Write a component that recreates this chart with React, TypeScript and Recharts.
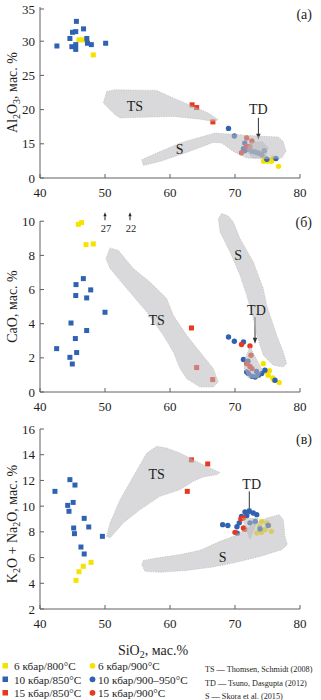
import React from 'react';
import { ScatterChart, Scatter, XAxis, YAxis, ReferenceDot, ReferenceLine, Label } from 'recharts';

type P = [number, number];

// ---------- Panel (а): Al2O3 vs SiO2 ----------
const aBlueSq: P[] = [[42.6,29.3],[44.6,30.4],[44.9,29.2],[45.0,31.3],[45.5,31.4],[45.6,32.9],[45.5,29.5],[45.5,28.8],[46.7,31.8],[47.2,30.4],[47.3,29.7],[47.9,29.5],[50.1,29.7]];
const aYellowSq: P[] = [[46.0,30.2],[46.6,30.2],[47.2,30.1],[48.2,28.0]];
const aRedSq: P[] = [[63.4,20.7],[64.1,20.3],[66.6,18.2]];
const aBlueCi: P[] = [[69.0,17.25],[69.9,16.15],[71.5,15.1],[71.3,14.3],[71.5,14.0],[72.05,14.15],[72.6,13.9],[73.1,13.8],[73.6,13.65],[74.1,13.4],[74.5,14.0],[76.3,12.85],[74.9,12.75]];
const aYellowCi: P[] = [[74.6,13.0],[75.1,12.65],[75.9,12.9],[74.4,12.45],[75.0,12.45],[75.6,12.45],[76.0,12.8],[76.7,11.7]];
const aRedCi: P[] = [[71.0,13.7],[71.8,15.85],[72.6,15.4],[71.8,14.6],[72.3,14.6]];
const aTS: P[] = [[50.26,22.66],[51.54,22.91],[57.95,22.81],[60.5,21.7],[63.58,20.47],[65.9,19.5],[67.43,18.52],[66.66,18.27],[64.6,18.6],[60.5,19.0],[56.9,18.9],[52.3,18.77],[51.54,19.25],[49.74,20.96]];
const aS: P[] = [[55.65,12.68],[57.95,13.65],[61.54,15.12],[66.92,16.58],[72.82,16.18],[76.66,15.99],[77.43,15.35],[77.85,13.89],[77.18,12.92],[74.88,12.78],[71.8,12.92],[69.74,13.89],[67.95,15.12],[66.66,15.2],[62.57,13.74],[58.46,12.43],[55.9,11.84]];
const aTD: P[] = [[72.3,15.2],[74.15,15.3],[75.1,14.43],[74.6,13.1],[72.6,12.95],[71.8,14.1]];
const aTicks = [10, 15, 20, 25, 30, 35];
const aTickLabels = ['0', '15', '20', '25', '30', '35'];

// ---------- Panel (б): CaO vs SiO2 ----------
const bBlueSq: P[] = [[46.67,6.64],[45.54,6.29],[47.8,5.98],[45.5,5.65],[47.18,5.51],[50.0,4.67],[44.77,4.04],[47.18,3.6],[45.44,3.13],[42.56,2.54],[45.64,2.31],[44.6,2.03],[44.97,1.64]];
const bYellowSq: P[] = [[45.9,9.82],[46.4,9.92],[47.08,8.63],[48.2,8.67]];
const bRedSq: P[] = [[63.3,3.75],[64.1,1.43],[66.57,0.73]];
const bBlueCi: P[] = [[69.0,3.22],[69.9,2.97],[71.3,2.93],[71.3,1.9],[71.8,1.17],[72.05,1.08],[72.6,0.92],[73.1,0.88],[73.6,0.98],[74.1,1.08],[74.6,1.27],[76.15,0.69],[72.0,1.8],[73.3,1.2]];
const bYellowCi: P[] = [[74.35,1.66],[74.9,1.17],[75.1,0.98],[75.8,0.82],[76.0,0.69],[76.8,0.55],[75.3,1.25]];
const bRedCi: P[] = [[71.0,2.78],[72.3,2.7],[71.8,1.66],[72.3,1.5],[72.46,2.15],[72.6,1.37]];
const bTS: P[] = [[50.77,8.44],[52.05,8.3],[54.35,7.23],[56.92,6.44],[59.49,5.47],[60.51,4.49],[62.57,3.32],[64.62,2.34],[66.66,1.37],[67.43,0.59],[66.66,0.29],[64.62,0.29],[62.57,0.78],[61.54,1.37],[60.51,2.34],[58.97,3.32],[56.42,4.69],[53.34,6.06],[50.77,7.23],[50.15,7.81]];
const bS: P[] = [[67.95,10.45],[68.97,10.31],[69.74,9.96],[70.77,8.99],[72.82,7.62],[74.35,6.06],[74.88,5.08],[76.42,3.32],[77.43,2.34],[77.95,1.66],[77.43,1.46],[75.89,1.56],[74.35,2.15],[73.34,3.32],[72.82,4.3],[71.8,5.66],[70.77,6.84],[69.23,8.2],[67.69,9.37],[67.43,10.16]];
const bTD: P[] = [[72.3,2.65],[73.2,2.0],[74.2,1.3],[73.6,0.8],[72.0,0.85],[71.4,1.4],[71.6,2.0]];
const bTicks = [0, 2, 4, 6, 8, 10];
const bOffScale = [{ x: 50.0, label: '27' }, { x: 53.85, label: '22' }];

// ---------- Panel (в): K2O+Na2O vs SiO2 ----------
const cBlueSq: P[] = [[44.6,12.06],[45.38,11.64],[42.3,11.15],[45.1,10.29],[44.26,10.06],[44.46,9.6],[46.8,9.05],[47.5,8.38],[45.18,8.3],[45.3,7.86],[49.6,7.65],[46.3,6.82],[46.8,6.28]];
const cYellowSq: P[] = [[47.85,5.63],[46.66,5.32],[46.0,4.9],[45.54,4.23]];
const cRedSq: P[] = [[63.3,13.6],[65.8,13.28],[62.66,11.15]];
const cBlueCi: P[] = [[68.1,8.56],[68.9,8.5],[70.3,8.4],[70.35,7.9],[70.66,8.7],[71.0,9.2],[71.54,9.55],[72.2,9.6],[72.8,9.47],[73.34,9.34],[71.8,9.26],[72.3,8.7],[73.1,8.8],[73.85,8.22],[75.1,8.5]];
const cYellowCi: P[] = [[74.1,8.81],[74.9,8.69],[73.35,7.91],[74.1,7.96],[75.6,8.04],[74.6,8.17],[75.2,8.5],[73.8,8.4]];
const cRedCi: P[] = [[70.0,7.96],[71.3,8.3],[71.5,8.2],[70.9,9.0],[71.3,9.08]];
const cTS: P[] = [[50.26,7.65],[50.77,8.69],[52.31,10.5],[54.35,12.31],[56.42,14.13],[57.95,14.65],[59.49,14.52],[61.54,14.13],[63.58,13.61],[65.65,13.09],[67.69,12.62],[67.18,12.45],[65.12,12.27],[63.58,11.93],[61.54,11.28],[58.46,10.76],[55.38,9.72],[52.82,8.69],[50.77,7.52]];
const cS: P[] = [[55.89,5.78],[57.95,5.97],[61.54,6.23],[64.62,6.56],[67.69,7.26],[69.74,7.65],[72.82,8.56],[74.88,9.08],[76.82,9.34],[77.43,8.95],[77.69,7.65],[78.05,7.0],[77.18,6.61],[73.85,6.09],[69.74,5.58],[66.66,5.27],[62.57,5.0],[58.46,4.85],[56.15,4.93],[55.65,5.45]];
const cTD: P[] = [[71.1,9.05],[73.6,9.05],[72.3,7.45]];
const cTicks = [2, 4, 6, 8, 10, 12, 14, 16];

const xTicks = [40, 50, 60, 70, 80];

const legendSquares = ['6 кбар/800°C', '10 кбар/850°C', '15 кбар/850°C'];
const legendCircles = ['6 кбар/900°C', '10 кбар/900–950°C', '15 кбар/900°C'];
const legendRefs = ['TS — Thomsen, Schmidt (2008)', 'TD — Tsuno, Dasgupta (2012)', 'S — Skora et al. (2015)'];

// ---------- styles ----------
const FF = "'Liberation Serif', 'Times New Roman', serif";
const YEL = '#f6e200';
const BLU = '#2f62b3';
const RED = '#e8391d';
const AX = '#606060';
const TXT = '#1e1e1e';
const seriesColors = [YEL, BLU, RED];

const pts = (a: P[]) => a.map(([x, y]) => ({ x, y }));
const closed = (a: P[]) => pts([...a, a[0]]);

const squareShape = (color: string) => (p: any) => (
  <rect x={p.cx - 2.5} y={p.cy - 2.5} width={5} height={5} fill={color} />
);
const circleShape = (color: string) => (p: any) => <circle cx={p.cx} cy={p.cy} r={2.7} fill={color} />;
const noShape = () => <g />;

const polyLine = {
  fill: '#b9babd',
  fillOpacity: 0.55,
  stroke: '#a8a8a8',
  strokeOpacity: 0.7,
  strokeWidth: 0.8,
  strokeDasharray: '1 1.4',
};

const makeYTick = (labels?: Record<number, string>) => (props: any) => {
  const { x, y, payload } = props;
  const ax = x + 5;
  const txt = labels && labels[payload.value] !== undefined ? labels[payload.value] : String(payload.value);
  return (
    <g>
      <line x1={ax} x2={ax + 4} y1={y} y2={y} stroke={AX} strokeWidth={1} />
      <text x={x} y={y + 4.5} textAnchor="end" fontSize={13} fontFamily={FF} fill={TXT}>{txt}</text>
    </g>
  );
};
const XTick = (props: any) => {
  const { x, y, payload } = props;
  const ay = y - 5;
  return (
    <g>
      <line x1={x} x2={x} y1={ay} y2={ay - 4} stroke={AX} strokeWidth={1} />
      <text x={x} y={ay + 18.5} textAnchor="middle" fontSize={13} fontFamily={FF} fill={TXT}>{payload.value}</text>
    </g>
  );
};

const textShape = (t: string, size = 14, dx = 0, anchor = 'middle') => (p: any) => (
  <text x={p.cx + dx} y={p.cy} textAnchor={anchor} dominantBaseline="central" fontSize={size} fontFamily={FF} fill={TXT}>{t}</text>
);

const arrowDown = (p: any) => {
  const { x1, y1, x2, y2 } = p;
  return (
    <g>
      <line x1={x1} y1={y1} x2={x2} y2={y2 - 5} stroke="#333" strokeWidth={1} />
      <polygon points={`${x2 - 2.2},${y2 - 6} ${x2 + 2.2},${y2 - 6} ${x2},${y2}`} fill="#333" />
    </g>
  );
};

const offScaleShape = (t: string) => (p: any) => (
  <g>
    <line x1={p.cx} y1={p.cy - 1} x2={p.cx} y2={p.cy - 5} stroke="#222" strokeWidth={1} />
    <polygon points={`${p.cx - 1.6},${p.cy - 5} ${p.cx + 1.6},${p.cy - 5} ${p.cx},${p.cy - 9}`} fill="#222" />
    <text x={p.cx + 1} y={p.cy + 10.5} textAnchor="middle" fontSize={10.5} fontFamily={FF} fill={TXT}>{t}</text>
  </g>
);

// vertical axis title with subscripts
type Part = { t: string; sub?: boolean };
const yTitle = (parts: Part[], dy = 0) => (p: any) => {
  const vb = p.viewBox;
  const cx = 12;
  const cy = vb.y + vb.height / 2 + dy;
  let down = false;
  return (
    <text x={cx} y={cy} transform={`rotate(-90, ${cx}, ${cy})`} textAnchor="middle" dominantBaseline="central" fontSize={14} fontFamily={FF} fill={TXT}>
      {parts.map((pt, i) => {
        let shift = 0;
        if (pt.sub && !down) { shift = 3.5; down = true; }
        else if (!pt.sub && down) { shift = -3.5; down = false; }
        return (
          <tspan key={i} dy={shift} fontSize={pt.sub ? 10 : 14}>{pt.t}</tspan>
        );
      })}
    </text>
  );
};

const xTitle = (p: any) => {
  const vb = p.viewBox;
  const cx = vb.x + vb.width / 2 - 17;
  const cy = vb.y + 41;
  return (
    <text x={cx} y={cy} textAnchor="middle" dominantBaseline="central" fontSize={14} fontFamily={FF} fill={TXT}>
      <tspan>SiO</tspan>
      <tspan dy={3.5} fontSize={10}>2</tspan>
      <tspan dy={-3.5}>, мас.%</tspan>
    </text>
  );
};

const pointSeries = (sq: P[][], ci: P[][]) => [
  ...sq.map((d, i) => (
    <Scatter key={`sq${i}`} data={pts(d)} shape={squareShape(seriesColors[i])} isAnimationActive={false} />
  )),
  ...ci.map((d, i) => (
    <Scatter key={`ci${i}`} data={pts(d)} shape={circleShape(seriesColors[i])} isAnimationActive={false} />
  )),
];

const polySeries = (polys: P[][]) =>
  polys.map((d, i) => (
    <Scatter key={`poly${i}`} data={closed(d)} shape={noShape} line={polyLine} lineType="joint" isAnimationActive={false} />
  ));

const axisProps = { stroke: AX, strokeWidth: 1 };

export default function App() {
  return (
    <div style={{ position: 'absolute', left: 0, top: 0, width: 321, height: 700, background: '#fff', fontFamily: FF }}>
      {/* Panel (а) */}
      <div style={{ position: 'absolute', left: 0, top: 0 }}>
        <ScatterChart width={321} height={200} margin={{ top: 7, right: 21, bottom: 0, left: 0 }}>
          <XAxis type="number" dataKey="x" domain={[40, 80]} ticks={xTicks} height={22} tickSize={0} tickMargin={5} tickLine={false} axisLine={axisProps} tick={XTick} />
          <YAxis type="number" dataKey="y" domain={[10, 35]} ticks={aTicks} width={40} tickSize={0} tickMargin={5} tickLine={false} axisLine={axisProps}
            tick={makeYTick(Object.fromEntries(aTicks.map((t, i) => [t, aTickLabels[i]])))}>
            <Label content={yTitle([{ t: 'Al' }, { t: '2', sub: true }, { t: 'O' }, { t: '3', sub: true }, { t: ', мас. %' }])} />
          </YAxis>
          {pointSeries([aYellowSq, aBlueSq, aRedSq], [aYellowCi, aBlueCi, aRedCi])}
          {polySeries([aS, aTS, aTD])}
          <ReferenceDot x={54.6} y={20.4} shape={textShape('TS')} />
          <ReferenceDot x={61.5} y={14.1} shape={textShape('S')} />
          <ReferenceDot x={73.6} y={20.0} shape={textShape('TD')} />
          <ReferenceLine segment={[{ x: 73.6, y: 18.8 }, { x: 73.6, y: 15.6 }]} shape={arrowDown} />
          <ReferenceDot x={80} y={33.9} shape={textShape('(а)', 14, 12, 'end')} />
        </ScatterChart>
      </div>

      {/* Panel (б) */}
      <div style={{ position: 'absolute', left: 0, top: 200 }}>
        <ScatterChart width={321} height={214} margin={{ top: 11, right: 21, bottom: 0, left: 0 }}>
          <XAxis type="number" dataKey="x" domain={[40, 80]} ticks={xTicks} height={22} tickSize={0} tickMargin={5} tickLine={false} axisLine={axisProps} tick={XTick} />
          <YAxis type="number" dataKey="y" domain={[0, 10.6]} ticks={bTicks} width={40} tickSize={0} tickMargin={5} tickLine={false} axisLine={false} tick={makeYTick()}>
            <Label content={yTitle([{ t: 'CaO, мас. %' }], 5)} />
          </YAxis>
          <ReferenceLine segment={[{ x: 40, y: 0 }, { x: 40, y: 10 }]} stroke={AX} strokeWidth={1} />
          {pointSeries([bYellowSq, bBlueSq, bRedSq], [bYellowCi, bBlueCi, bRedCi])}
          {polySeries([bS, bTS, bTD])}
          <ReferenceDot x={57.95} y={4.2} shape={textShape('TS')} />
          <ReferenceDot x={70.5} y={8.0} shape={textShape('S')} />
          <ReferenceDot x={73.3} y={4.79} shape={textShape('TD')} />
          <ReferenceLine segment={[{ x: 73.08, y: 4.39 }, { x: 73.08, y: 2.83 }]} shape={arrowDown} />
          {bOffScale.map((o) => (
            <ReferenceDot key={o.label} x={o.x} y={10} shape={offScaleShape(o.label)} />
          ))}
          <ReferenceDot x={80} y={9.92} shape={textShape('(б)', 14, 12, 'end')} />
        </ScatterChart>
      </div>

      {/* Panel (в) */}
      <div style={{ position: 'absolute', left: 0, top: 414 }}>
        <ScatterChart width={321} height={250} margin={{ top: 15, right: 21, bottom: 0, left: 0 }}>
          <XAxis type="number" dataKey="x" domain={[40, 80]} ticks={xTicks} height={55} tickSize={0} tickMargin={5} tickLine={false} axisLine={axisProps} tick={XTick}>
            <Label content={xTitle} />
          </XAxis>
          <YAxis type="number" dataKey="y" domain={[2, 16]} ticks={cTicks} width={40} tickSize={0} tickMargin={5} tickLine={false} axisLine={axisProps} tick={makeYTick()}>
            <Label content={yTitle([{ t: 'K' }, { t: '2', sub: true }, { t: 'O + Na' }, { t: '2', sub: true }, { t: 'O, мас. %' }], 5)} />
          </YAxis>
          {pointSeries([cYellowSq, cBlueSq, cRedSq], [cYellowCi, cBlueCi, cRedCi])}
          {polySeries([cS, cTS, cTD])}
          <ReferenceDot x={57.95} y={12.5} shape={textShape('TS')} />
          <ReferenceDot x={68.1} y={5.97} shape={textShape('S')} />
          <ReferenceDot x={72.57} y={11.72} shape={textShape('TD')} />
          <ReferenceLine segment={[{ x: 72.2, y: 11.15 }, { x: 72.2, y: 9.33 }]} shape={arrowDown} />
          <ReferenceDot x={80} y={15.17} shape={textShape('(в)', 14, 12, 'end')} />
        </ScatterChart>
      </div>

      {/* Legend */}
      <svg style={{ position: 'absolute', left: 0, top: 655 }} width={321} height={45}>
        {legendSquares.map((t, i) => (
          <g key={t}>
            <rect x={2.5} y={15 + i * 13.5 - 7} width={5.5} height={5.5} fill={seriesColors[i]} />
            <text x={14} y={15 + i * 13.5} fontSize={11.2} fontFamily={FF} fill={TXT}>{t}</text>
          </g>
        ))}
        {legendCircles.map((t, i) => (
          <g key={t}>
            <circle cx={92.5} cy={15 + i * 13.5 - 4.2} r={2.9} fill={seriesColors[i]} />
            <text x={98} y={15 + i * 13.5} fontSize={11.2} fontFamily={FF} fill={TXT}>{t}</text>
          </g>
        ))}
        {legendRefs.map((t, i) => (
          <text key={t} x={205} y={17 + i * 13.5} fontSize={8.2} fontFamily={FF} fill={TXT}>{t}</text>
        ))}
      </svg>
    </div>
  );
}
